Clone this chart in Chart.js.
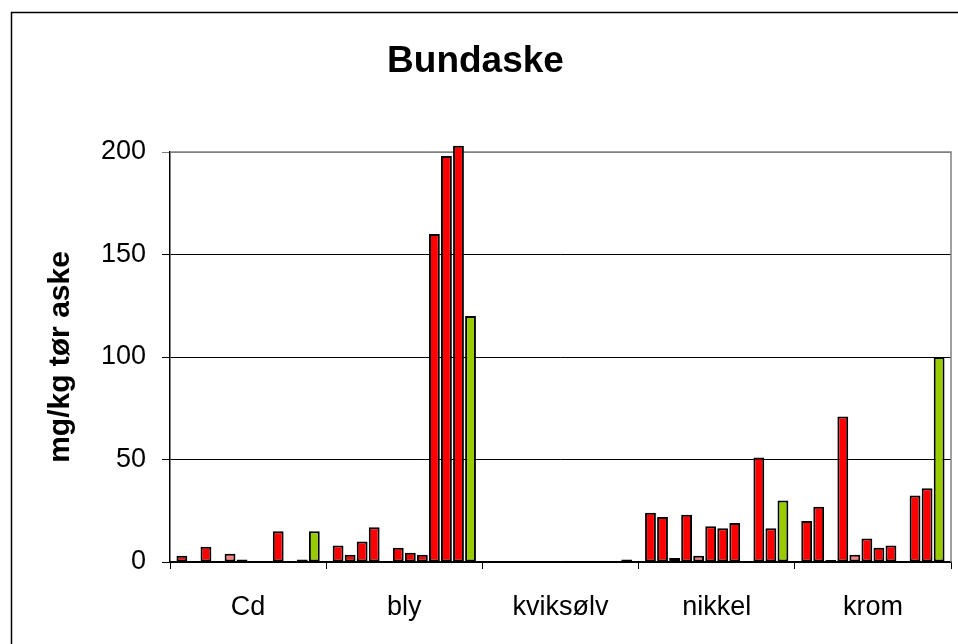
<!DOCTYPE html>
<html>
<head>
<meta charset="utf-8">
<title>Bundaske</title>
<script src="https://cdn.jsdelivr.net/npm/chart.js@4/dist/chart.umd.min.js"></script>
<style>
  html, body { margin: 0; padding: 0; background: #fff; }
  #wrap { width: 958px; height: 644px; }
</style>
</head>
<body>
<div id="wrap"><canvas id="bundaskeChart" width="958" height="644"></canvas></div>
<script>
// categories and y ticks
const categories = ['Cd', 'bly', 'kviksølv', 'nikkel', 'krom'];
const yTicks = [0, 50, 100, 150, 200];

// one array per sample (order: Cd, bly, kviksølv, nikkel, krom), null = no value
const serie1 = [3, 8, null, 24, 20];
const serie2 = [null, 3.5, null, 22, 27];
const serie3 = [7.5, 10, null, 2, 1];
const serie4 = [null, 17, null, 23, 71];
const serie5 = [4, null, null, 3, 3.5];
const serie6 = [1.2, 7, null, 17.5, 11.5];
const serie7 = [null, 4.5, null, 16.5, 7];
const serie8 = [null, 3.5, null, 19, 8];
const serie9 = [15, 160, null, null, null];
const serie10 = [null, 198, null, 51, 32.5];
const serie11 = [1.2, 203, null, 16.5, 36];
const serie12 = [15, 120, 1.2, 30, 100];

const allSeries = [serie1, serie2, serie3, serie4, serie5, serie6,
                   serie7, serie8, serie9, serie10, serie11, serie12];
const seriesColors = ['#FF0000', '#FF0000', '#FF0000', '#FF0000', '#FF8080', '#FF0000',
                      '#FF0000', '#FF0000', '#FF0000', '#FF0000', '#FF0000', '#99CC00'];

const fontFamily = "Arial, 'Liberation Sans', sans-serif";

// outer frame + grey plot border (top / right)
const framePlugin = {
  id: 'framePlugin',
  beforeDraw(chart) {
    const ctx = chart.ctx;
    ctx.save();
    ctx.fillStyle = '#fff';
    ctx.fillRect(0, 0, chart.width, chart.height);
    ctx.strokeStyle = '#000';
    ctx.lineWidth = 1.5;
    ctx.beginPath();
    ctx.moveTo(11.5, chart.height + 2);
    ctx.lineTo(11.5, 12.5);
    ctx.lineTo(chart.width + 2, 12.5);
    ctx.stroke();
    ctx.restore();
  },
  beforeDatasetsDraw(chart) {
    const a = chart.chartArea;
    const ctx = chart.ctx;
    ctx.save();
    ctx.strokeStyle = '#808080';
    ctx.lineWidth = 1.5;
    ctx.beginPath();
    ctx.moveTo(a.left, a.top);
    ctx.lineTo(a.right, a.top);
    ctx.lineTo(a.right, a.bottom);
    ctx.stroke();
    ctx.restore();
  }
};

const ctx = document.getElementById('bundaskeChart').getContext('2d');
new Chart(ctx, {
  type: 'bar',
  data: {
    labels: categories,
    datasets: allSeries.map((values, i) => ({
      label: 'Serie ' + (i + 1),
      data: values,
      backgroundColor: seriesColors[i],
      borderColor: '#000',
      borderWidth: 2,
      borderSkipped: false,
      categoryPercentage: 0.925,
      barPercentage: 0.9,
      clip: false
    }))
  },
  options: {
    responsive: false,
    devicePixelRatio: 1,
    animation: false,
    layout: { padding: { top: 0, right: 7, bottom: 0, left: 0 } },
    plugins: {
      legend: { display: false },
      tooltip: { enabled: false },
      title: {
        display: true,
        text: 'Bundaske',
        color: '#000',
        font: { family: fontFamily, size: 37, weight: 'bold' },
        padding: { top: 40, bottom: 67.6 }
      }
    },
    scales: {
      x: {
        afterFit: s => { s.height = 82; },
        grid: {
          offset: true,
          drawOnChartArea: false,
          tickLength: 7,
          color: '#000'
        },
        border: { display: true, color: '#000', width: 1.5 },
        ticks: {
          color: '#000',
          padding: 22,
          font: { family: fontFamily, size: 27 }
        }
      },
      y: {
        min: 0,
        max: 200,
        afterFit: s => { s.width = 170; },
        afterBuildTicks: s => { s.ticks = yTicks.map(v => ({ value: v })); },
        grid: {
          color: c => (c.tick && c.tick.value === 200 ? '#808080' : '#000'),
          tickLength: 8
        },
        border: { display: true, color: '#000', width: 1.5 },
        ticks: {
          color: '#000',
          padding: 16,
          font: { family: fontFamily, size: 27 }
        },
        title: {
          display: true,
          text: 'mg/kg tør aske',
          color: '#000',
          font: { family: fontFamily, size: 30, weight: 'bold' },
          padding: { top: 43 }
        }
      }
    }
  },
  plugins: [framePlugin]
});
</script>
</body>
</html>
